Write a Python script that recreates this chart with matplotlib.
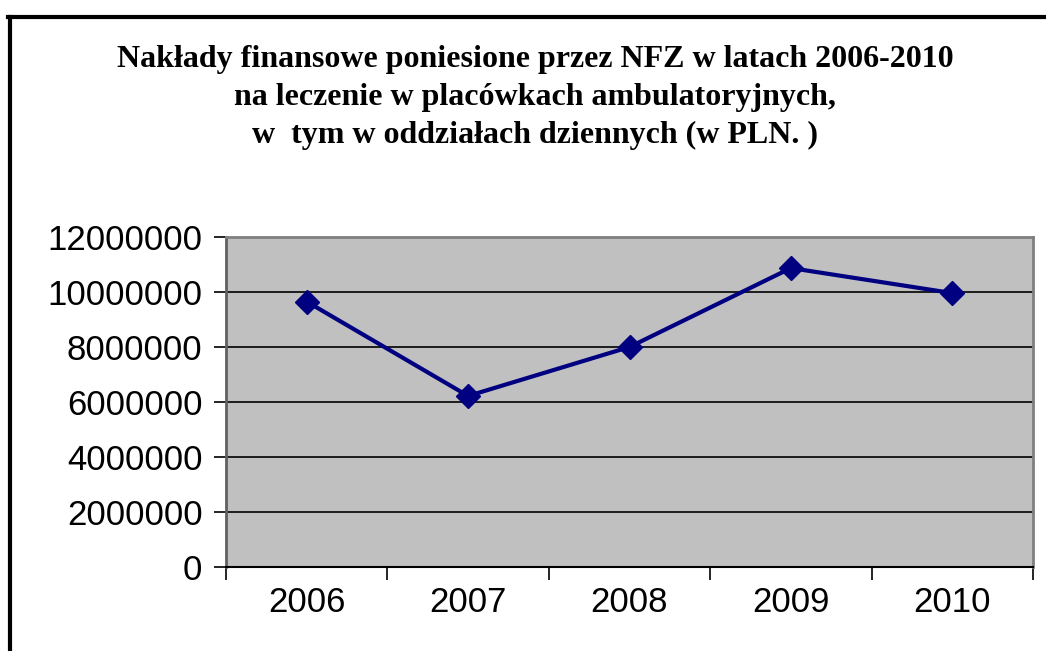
import matplotlib.pyplot as plt
from matplotlib.lines import Line2D
from matplotlib.ticker import MultipleLocator, FixedLocator

years = ['2006', '2007', '2008', '2009', '2010']
values = [9650000, 6220000, 8000000, 10870000, 9960000]
title_lines = [
    'Nakłady finansowe poniesione przez NFZ w latach 2006-2010',
    'na leczenie w placówkach ambulatoryjnych,',
    'w  tym w oddziałach dziennych (w PLN. )',
]

fig = plt.figure(figsize=(10.46, 6.51), dpi=100)
ax = fig.add_axes([226 / 1046, 1 - 567 / 651, (1033 - 226) / 1046, (567 - 237) / 651])

# outer chart frame (only left and top visible in crop)
fig.add_artist(Line2D([9.5 / 1046, 9.5 / 1046], [0, 1 - 16.5 / 651], color='black', lw=3, transform=fig.transFigure))
fig.add_artist(Line2D([8 / 1046, 1], [1 - 16.5 / 651, 1 - 16.5 / 651], color='black', lw=3, transform=fig.transFigure))

x = list(range(len(years)))
ax.set_facecolor('#c0c0c0')
ax.plot(x, values, color='#000080', lw=3, marker='D', markersize=12, zorder=3)

ax.set_xlim(-0.5, len(years) - 0.5)
ax.set_ylim(0, 12000000)
ax.yaxis.set_major_locator(MultipleLocator(2000000))
ax.yaxis.set_major_formatter(plt.FuncFormatter(lambda v, p: f'{int(v)}'))
ax.set_xticks(x)
ax.set_xticklabels(years)
ax.xaxis.set_minor_locator(FixedLocator([i - 0.5 for i in range(len(years) + 1)]))
ax.grid(axis='y', color='black', lw=1.2)
ax.set_axisbelow(True)

ax.tick_params(axis='y', direction='out', length=9, width=1.2, pad=8, labelsize=25)
ax.tick_params(axis='x', which='major', length=0, pad=14, labelsize=25)
ax.tick_params(axis='x', which='minor', direction='out', length=9, width=1.2)
for t in ax.get_xticklabels() + ax.get_yticklabels():
    t.set_fontfamily('Liberation Sans')

for side in ['top', 'right']:
    ax.spines[side].set_color('#808080')
    ax.spines[side].set_linewidth(2)
ax.spines['left'].set_color('#606060')
ax.spines['left'].set_linewidth(2)
ax.spines['bottom'].set_color('black')
ax.spines['bottom'].set_linewidth(1.5)

for i, line in enumerate(title_lines):
    fig.text(535 / 1046, 1 - (60 + 37.5 * i) / 651, line, ha='center', va='center',
             fontsize=23, fontweight='bold', family='Liberation Serif')

fig.savefig('out.png', dpi=100)
